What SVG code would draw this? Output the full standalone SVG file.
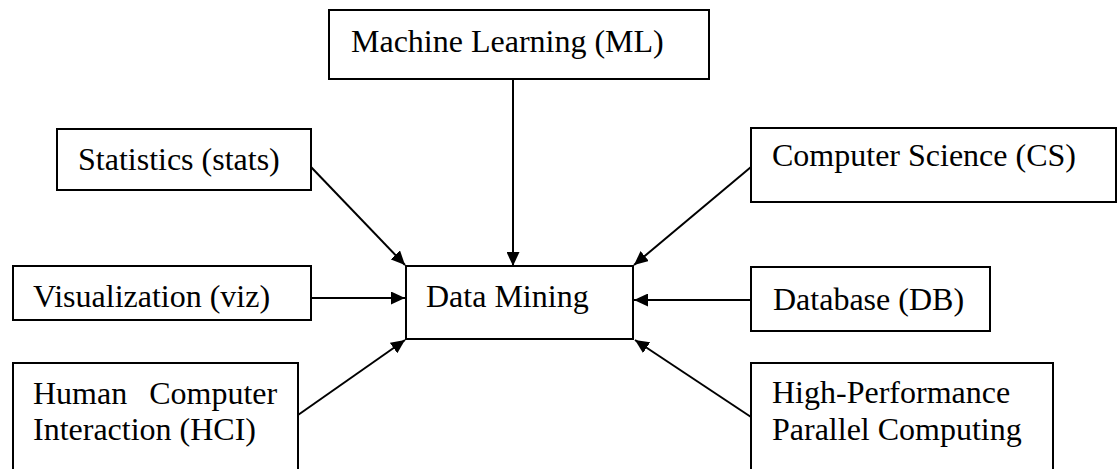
<svg xmlns="http://www.w3.org/2000/svg" width="1120" height="469" viewBox="0 0 1120 469">
<style>
.box{fill:#fff;stroke:#000;stroke-width:2}
.t{font-family:"Liberation Serif","Times New Roman",serif;font-size:32px;fill:#000}
.c{stroke:#000;stroke-width:2;fill:none;marker-end:url(#ah)}
</style>
<defs>
<marker id="ah" markerWidth="15" markerHeight="13" refX="14" refY="6.5" orient="auto" markerUnits="userSpaceOnUse">
<path d="M0,0 L14,6.5 L0,13 z" fill="#000"/>
</marker>
</defs>
<rect width="1120" height="469" fill="#fff"/>
<g id="connectors">
<line class="c" x1="513" y1="79" x2="513" y2="266"/>
<line class="c" x1="311" y1="167" x2="405" y2="265"/>
<line class="c" x1="751" y1="167" x2="634" y2="265"/>
<line class="c" x1="311" y1="298" x2="405" y2="298"/>
<line class="c" x1="751" y1="300" x2="634" y2="300"/>
<line class="c" x1="298" y1="415" x2="405" y2="340"/>
<line class="c" x1="751" y1="417" x2="635" y2="340"/>
</g>
<g id="ml">
<rect class="box" x="329" y="10" width="380" height="69"/>
<text class="t" x="351" y="52">Machine Learning (ML)</text>
</g>
<g id="stats">
<rect class="box" x="57" y="129" width="254" height="61"/>
<text class="t" x="78" y="170">Statistics (stats)</text>
</g>
<g id="cs">
<rect class="box" x="751" y="128" width="365" height="74"/>
<text class="t" x="772" y="166">Computer Science (CS)</text>
</g>
<g id="viz">
<rect class="box" x="13" y="266" width="298" height="54"/>
<text class="t" x="33" y="307">Visualization (viz)</text>
</g>
<g id="dm">
<rect class="box" x="406" y="266" width="227" height="73"/>
<text class="t" x="426" y="307">Data Mining</text>
</g>
<g id="db">
<rect class="box" x="751" y="267" width="239" height="64"/>
<text class="t" x="773" y="310">Database (DB)</text>
</g>
<g id="hci">
<rect class="box" x="13" y="363" width="285" height="120"/>
<text class="t" x="33" y="404" word-spacing="14">Human Computer</text>
<text class="t" x="33" y="440">Interaction (HCI)</text>
</g>
<g id="hpc">
<rect class="box" x="751" y="363" width="302" height="120"/>
<text class="t" x="772" y="403">High-Performance</text>
<text class="t" x="772" y="440">Parallel Computing</text>
</g>
</svg>
